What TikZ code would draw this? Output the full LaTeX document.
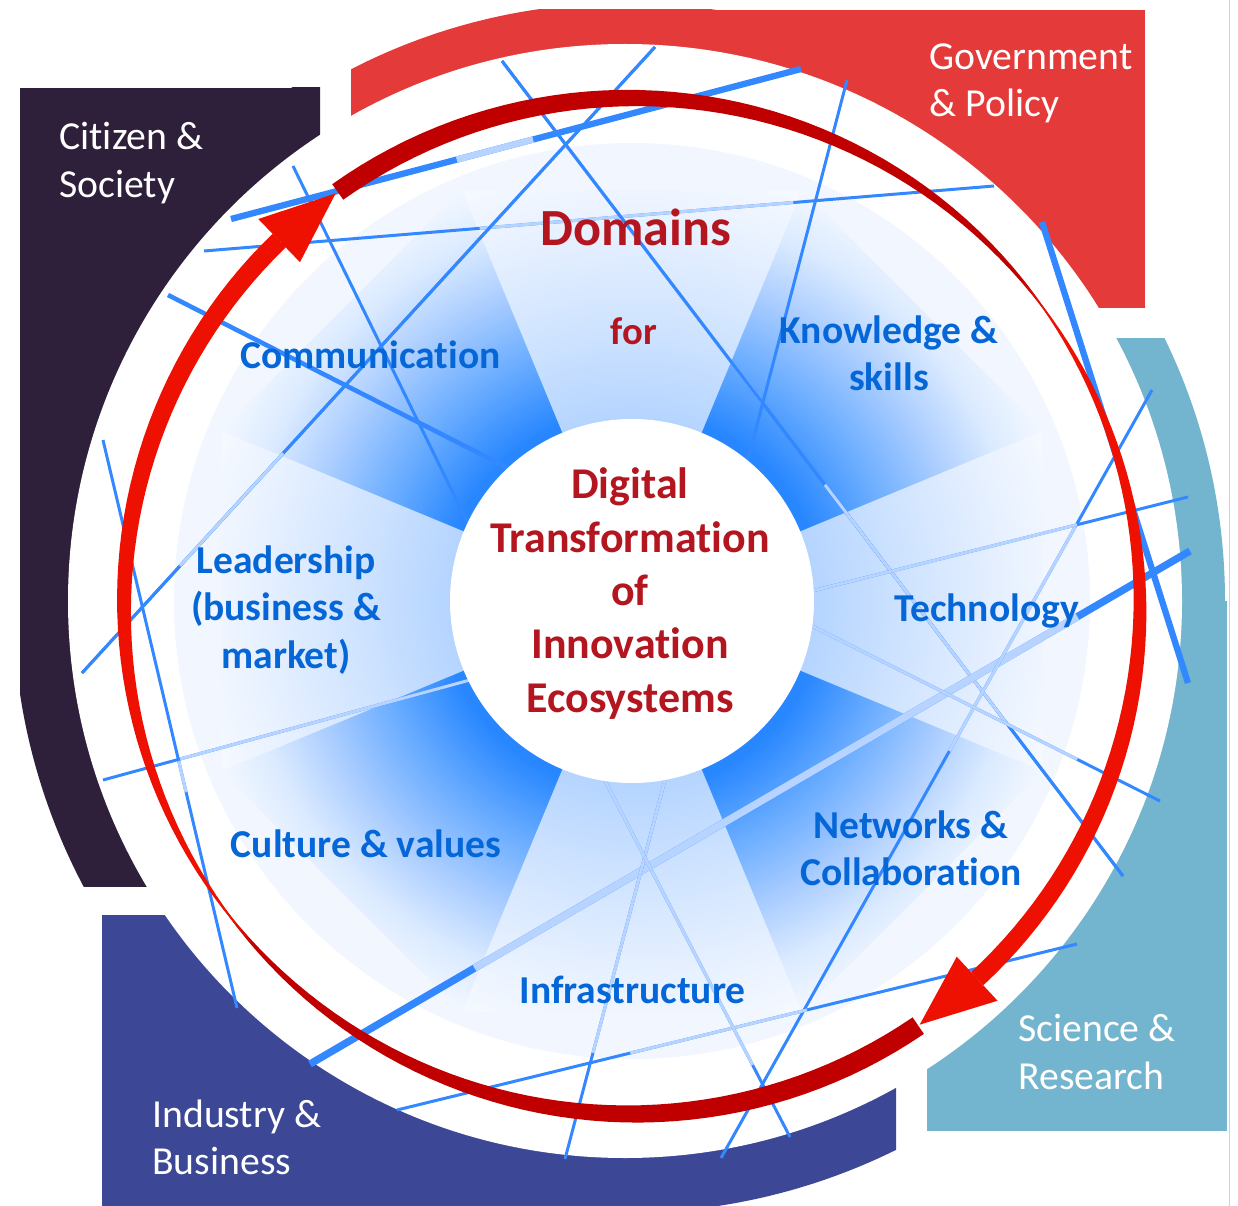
\documentclass[tikz,border=0pt]{standalone}
\usepackage{fontspec}
\setmainfont{Carlito}[Ligatures=NoCommon]
\usetikzlibrary{calc}

\definecolor{citizen}{RGB}{46,32,58}
\definecolor{govred}{RGB}{229,58,58}
\definecolor{science}{RGB}{115,181,206}
\definecolor{industry}{RGB}{60,72,150}
\definecolor{lineblue}{RGB}{51,136,255}
\definecolor{linepale}{RGB}{182,212,255}
\definecolor{textblue}{RGB}{5,102,215}
\definecolor{textred}{RGB}{180,22,32}
\definecolor{arrdark}{RGB}{192,0,0}
\definecolor{arrbright}{RGB}{238,16,0}
\definecolor{discblue}{RGB}{242,247,255}
\definecolor{wdeep}{RGB}{40,135,255}
\definecolor{wmid}{RGB}{105,172,255}
\definecolor{wlight}{RGB}{170,205,255}
\definecolor{wpale}{RGB}{218,234,255}
\definecolor{wfade}{RGB}{245,249,255}
\definecolor{cdeep}{RGB}{180,212,255}
\definecolor{cmid}{RGB}{208,228,255}
\definecolor{clight}{RGB}{230,240,255}

\pgfdeclareradialshading{diagfade}{\pgfpointorigin}{%
  color(0bp)=(wdeep); color(9.5bp)=(wdeep); color(13bp)=(wmid);
  color(16.5bp)=(wlight); color(19.5bp)=(wpale); color(22.5bp)=(wfade); color(50bp)=(wfade)}
\pgfdeclareradialshading{crossfade}{\pgfpointorigin}{%
  color(0bp)=(cdeep); color(9bp)=(cdeep); color(14bp)=(cmid);
  color(18.5bp)=(clight); color(22bp)=(wfade); color(50bp)=(wfade)}

\begin{document}
\begin{tikzpicture}[x=0.02cm,y=-0.02cm,
  declare function={hw(\s,\p,\q)=\p*(1-\s*\s)+\q*(1-(1-\s)*(1-\s));},
  bline/.style={draw=lineblue,line width=#1},
  pline/.style={draw=linepale,line width=#1},
  qlabel/.style={text=white,font=\fontsize{22.6}{26.9}\selectfont,align=left,anchor=west,inner sep=0pt},
  dlabel/.style={text=textblue,font=\bfseries\fontsize{22.5}{26.9}\selectfont,align=center,inner sep=0pt},
  hlabel/.style={text=textred,font=\bfseries\fontsize{25}{30.4}\selectfont,align=center,inner sep=0pt}]

\fill[white] (0,0) rectangle (1238,1206);
\useasboundingbox (0,0) rectangle (1238,1206);
\coordinate (rim) at (625,601);
\coordinate (hub) at (632,601);
\coordinate (ring) at (632,606);

% stakeholder corners
\begin{scope}
\clip (20,88) rectangle (320,886);
\fill[citizen] (20,88) rectangle (320,601);
\fill[citizen] (rim) circle[radius=612];
\end{scope}
\begin{scope}
\clip (351,10) rectangle (1145,308);
\fill[govred] (625,10) rectangle (1145,308);
\fill[govred] (rim) circle[radius=598];
\end{scope}
\begin{scope}
\clip (927,339) rectangle (1227,1131);
\fill[science] (927,601) rectangle (1227,1131);
\fill[science] (rim) circle[radius=600];
\end{scope}
\begin{scope}
\clip (102,915) rectangle (896,1206);
\fill[industry] (102,915) rectangle (625,1206);
\fill[industry] (rim) circle[radius=612];
\end{scope}
\draw[black!18,line width=0.5pt] (1229,0) -- (1229,1206);

\fill[white] (rim) circle[radius=557];
\fill[discblue] (hub) circle[radius=458];

% domain sectors
\foreach \a in {0,90,180,270}{
  \begin{scope}
  \clip (hub) -- ($(hub)+(\a-22.5:445)$) -- ($(hub)+(\a+22.5:445)$) -- cycle;
  \shade[shading=crossfade] (hub) circle[radius=500];
  \end{scope}
}
\foreach \a in {45,135,225,315}{
  \begin{scope}
  \clip (hub) -- ($(hub)+(\a-22.5:445)$) -- ($(hub)+(\a+22.5:445)$) -- cycle;
  \shade[shading=diagfade] (hub) circle[radius=500];
  \end{scope}
}

% network lines
\foreach \ax/\ay/\bx/\by/\w/\pa/\pb in {%
  231/219/801/69/3.6pt/0.396/0.53,
  204/251/994/186/1.7pt/0.349/0.746,
  502/61/1123/876/1.7pt/0.101/0.419,
  502/61/1123/876/1.7pt/0.52/0.815,
  655/47/82/673/1.7pt/0.157/0.30,
  655/47/82/673/1.7pt/0.649/0.829,
  293/166/480/548/1.7pt/0/0,
  168/295/510/469/2.6pt/0/0,
  103/440/237/1008/1.7pt/0.563/0.62,
  103/780/470/680/1.7pt/0.21/1,
  1190/551/310/1064/4.2pt/0.128/0.813,
  1042/222/1188/683/3.6pt/0/0,
  1152/390/721/1158/1.7pt/0.174/0.47,
  1188/497/800/594/1.7pt/0.286/1,
  1160/801/800/620/1.7pt/0.23/1,
  1077/944/397/1110/1.7pt/0.397/0.657,
  565/1159/666/776/1.7pt/0.277/1,
  603/777/790/1137/1.7pt/0/0.80,
  847/80/745/471/1.7pt/0/0}{
  \draw[bline=\w] (\ax,\ay) -- (\bx,\by);
  \draw[pline=\w] ($(\ax,\ay)!\pa!(\bx,\by)$) -- ($(\ax,\ay)!\pb!(\bx,\by)$);
}

\fill[white] (hub) circle[radius=182];

% circular arrows
\foreach \ta/\tb/\wa/\wb/\col in {55.7/146.5/10/0/arrdark, 138/226/0/9.5/arrbright,
    234.6/328/9.5/0/arrdark, 320/407.2/0/9/arrbright}{
  \fill[\col] plot[domain=\ta:\tb,samples=50]
      ({632+(508+hw((\x-\ta)/(\tb-\ta),\wa,\wb))*cos(\x)},{606+(508+hw((\x-\ta)/(\tb-\ta),\wa,\wb))*sin(\x)})
    -- plot[domain=\tb:\ta,samples=50]
      ({632+(508-hw((\x-\ta)/(\tb-\ta),\wa,\wb))*cos(\x)},{606+(508-hw((\x-\ta)/(\tb-\ta),\wa,\wb))*sin(\x)})
    -- cycle;
}
\fill[arrbright] ($(ring)+(226:538)$) -- ($(ring)+(226:478)$) -- ($(ring)+(234.3:508)$) -- cycle;
\fill[arrbright] ($(ring)+(47.2:538)$) -- ($(ring)+(47.2:478)$) -- ($(ring)+(55.5:508)$) -- cycle;

% labels
\node[qlabel] (citizen) at (59,163) {Citizen \&\\Society};
\node[qlabel] (government) at (929,83) {Government\\\& Policy};
\node[qlabel] (science) at (1018,1052) {Science \&\\Research};
\node[qlabel] (industry) at (152,1137) {Industry \&\\Business};

\node[hlabel,font=\bfseries\fontsize{29.7}{35}\selectfont] (domains) at (636,227) {Domains};
\node[hlabel,font=\bfseries\fontsize{22}{26}\selectfont] (domfor) at (634,331) {for};
\node[hlabel] (dtie) at (630,593.5) {Digital\\Transformation\\of\\Innovation\\Ecosystems};

\node[dlabel] (communication) at (370.5,355) {Communication};
\node[dlabel] (knowledge) at (889,353) {Knowledge \&\\skills};
\node[dlabel] (leadership) at (286,610) {Leadership\\(business \&\\market)};
\node[dlabel] (technology) at (986.5,611) {Technology};
\node[dlabel] (culture) at (366,844) {Culture \& values};
\node[dlabel] (networks) at (911,848) {Networks \&\\Collaboration};
\node[dlabel] (infrastructure) at (632.5,990) {Infrastructure};
\end{tikzpicture}
\end{document}
